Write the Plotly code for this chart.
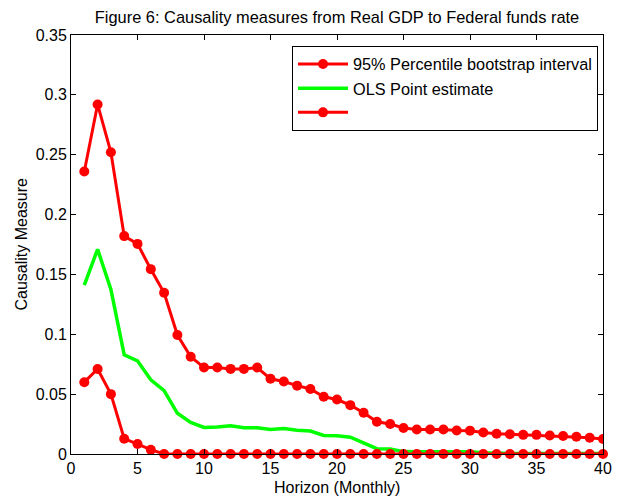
import plotly.graph_objects as go

horizon = list(range(1, 41))

upper_bound = [0.236, 0.292, 0.252, 0.182, 0.1755, 0.1544, 0.1347, 0.0994, 0.0813, 0.0722,
               0.0722, 0.0711, 0.0711, 0.0722, 0.0628, 0.0605, 0.0571, 0.0543, 0.0478, 0.0455,
               0.0408, 0.0344, 0.0269, 0.0250, 0.0217, 0.0205, 0.0205, 0.0205, 0.0197, 0.0195,
               0.0180, 0.0169, 0.0165, 0.0160, 0.0160, 0.0155, 0.0150, 0.0144, 0.0136, 0.0125]

ols_estimate = [0.141, 0.171, 0.1375, 0.0828, 0.0778, 0.062, 0.053, 0.034, 0.0264, 0.0222,
                0.0225, 0.0236, 0.0220, 0.0220, 0.0205, 0.0212, 0.0198, 0.0192, 0.0155, 0.0153,
                0.0140, 0.0094, 0.0044, 0.0042, 0.0020, 0.0018, 0.0018, 0.0018, 0.0018, 0.0018,
                0.0010, 0.0005, 0.0005, 0.0005, 0.0005, 0.0005, 0.0005, 0.0005, 0.0005, 0.0005]

lower_bound = [0.060, 0.071, 0.050, 0.0128, 0.0083, 0.0036] + [0.0] * 34

y_ticks = [0, 0.05, 0.1, 0.15, 0.2, 0.25, 0.3, 0.35]
y_tick_labels = ["0", "0.05", "0.1", "0.15", "0.2", "0.25", "0.3", "0.35"]
x_ticks = [0, 5, 10, 15, 20, 25, 30, 35, 40]

red = "rgb(255,0,0)"
green = "rgb(0,255,0)"

fig = go.Figure()
fig.add_trace(go.Scatter(
    x=horizon, y=upper_bound, mode="lines+markers",
    name="95% Percentile bootstrap interval",
    line=dict(color=red, width=3),
    marker=dict(color=red, size=10, symbol="circle"),
))
fig.add_trace(go.Scatter(
    x=horizon, y=ols_estimate, mode="lines",
    name="OLS Point estimate",
    line=dict(color=green, width=3.5),
))
fig.add_trace(go.Scatter(
    x=horizon, y=lower_bound, mode="lines+markers",
    name=" ",
    line=dict(color=red, width=3),
    marker=dict(color=red, size=10, symbol="circle"),
    cliponaxis=False,
))

font = "Liberation Sans, Arial, Helvetica, sans-serif"
W, H = 620, 500
L, R, T, B = 71, 17, 35, 46

fig.update_layout(
    width=W, height=H,
    margin=dict(l=L, r=R, t=T, b=B),
    paper_bgcolor="white", plot_bgcolor="white",
    font=dict(family=font, size=16, color="black"),
    title=dict(
        text="Figure 6: Causality measures from Real GDP to Federal funds rate",
        font=dict(size=16.4, color="black"),
        x=(L + W - R) / 2 / W, xanchor="center",
        y=1 - 17 / H, yanchor="middle",
    ),
    showlegend=True,
    legend=dict(
        x=0.9906, y=0.974, xanchor="right", yanchor="top",
        bordercolor="black", borderwidth=1, bgcolor="white",
        font=dict(size=16.3), tracegroupgap=0, itemwidth=50,
    ),
    xaxis=dict(
        range=[0, 40], tickvals=x_ticks, ticks="inside", ticklen=5,
        tickcolor="black", tickwidth=1,
        showline=True, linecolor="black", linewidth=1, mirror="ticks",
        showgrid=False, zeroline=False, automargin=False,
        tickfont=dict(size=16),
    ),
    yaxis=dict(
        range=[0, 0.35], tickvals=y_ticks, ticktext=y_tick_labels,
        ticks="inside", ticklen=5, tickcolor="black", tickwidth=1,
        showline=True, linecolor="black", linewidth=1, mirror="ticks",
        showgrid=False, zeroline=False, automargin=False,
        tickfont=dict(size=16),
    ),
    annotations=[
        dict(text="Horizon (Monthly)", xref="paper", yref="paper",
             x=0.5, y=-(488 - (H - B)) / (H - T - B), xanchor="center", yanchor="middle",
             showarrow=False, font=dict(size=16)),
        dict(text="Causality Measure", xref="paper", yref="paper",
             x=-(L - 21) / (W - L - R), y=0.5, xanchor="center", yanchor="middle",
             textangle=-90, showarrow=False, font=dict(size=16)),
    ],
)

fig.write_html("out.html")
